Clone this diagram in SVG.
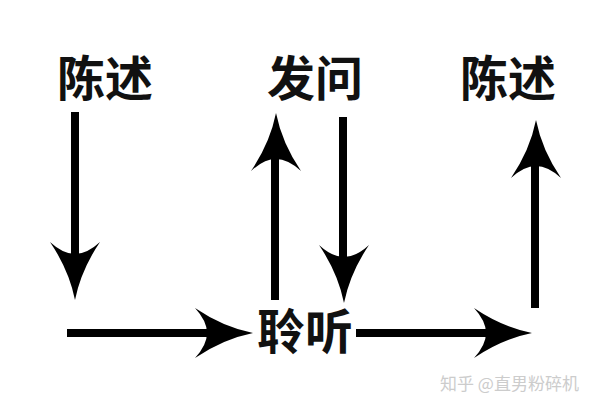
<svg xmlns="http://www.w3.org/2000/svg" xmlns:xlink="http://www.w3.org/1999/xlink" width="600" height="413" viewBox="0 0 600 413">
<style>
.lbl{font-family:"Noto Sans CJK SC","Noto Sans CJK JP",sans-serif;font-size:48px;font-weight:bold;fill:#111;text-anchor:middle}
.shaft{stroke:#000;stroke-width:8;fill:none}
.wm{font-family:"Noto Sans CJK SC","Noto Sans CJK JP",sans-serif;font-size:17px;fill:#cccccc}
</style>
<defs>
<path id="head" d="M0,0 Q-30,-6 -58,-25 Q-46,-12 -46,0 Q-46,12 -58,25 Q-30,6 0,0 Z" fill="#000"/>
</defs>
<rect width="600" height="413" fill="#fff"/>
<g id="connectors">
<g id="c1"><line class="shaft" x1="75" y1="112" x2="75" y2="262"/><use xlink:href="#head" transform="translate(75,300) rotate(90)"/></g>
<g id="c2"><line class="shaft" x1="275" y1="300" x2="275" y2="150"/><use xlink:href="#head" transform="translate(276,113) rotate(-90)"/></g>
<g id="c3"><line class="shaft" x1="343" y1="117" x2="343" y2="265"/><use xlink:href="#head" transform="translate(344,303) rotate(90)"/></g>
<g id="c4"><line class="shaft" x1="535" y1="308" x2="535" y2="158"/><use xlink:href="#head" transform="translate(536,120) rotate(-90)"/></g>
<g id="c5"><line class="shaft" x1="67" y1="333" x2="215" y2="333"/><use xlink:href="#head" transform="translate(253,333)"/></g>
<g id="c6"><line class="shaft" x1="356" y1="333" x2="494" y2="333"/><use xlink:href="#head" transform="translate(532,333)"/></g>
</g>
<g id="n1"><text class="lbl" x="105" y="96">陈述</text></g>
<g id="n2"><text class="lbl" x="315" y="96">发问</text></g>
<g id="n3"><text class="lbl" x="508" y="96">陈述</text></g>
<g id="n4"><text class="lbl" x="305" y="349">聆听</text></g>
<text class="wm" x="440" y="390">知乎 @直男粉碎机</text>
</svg>
